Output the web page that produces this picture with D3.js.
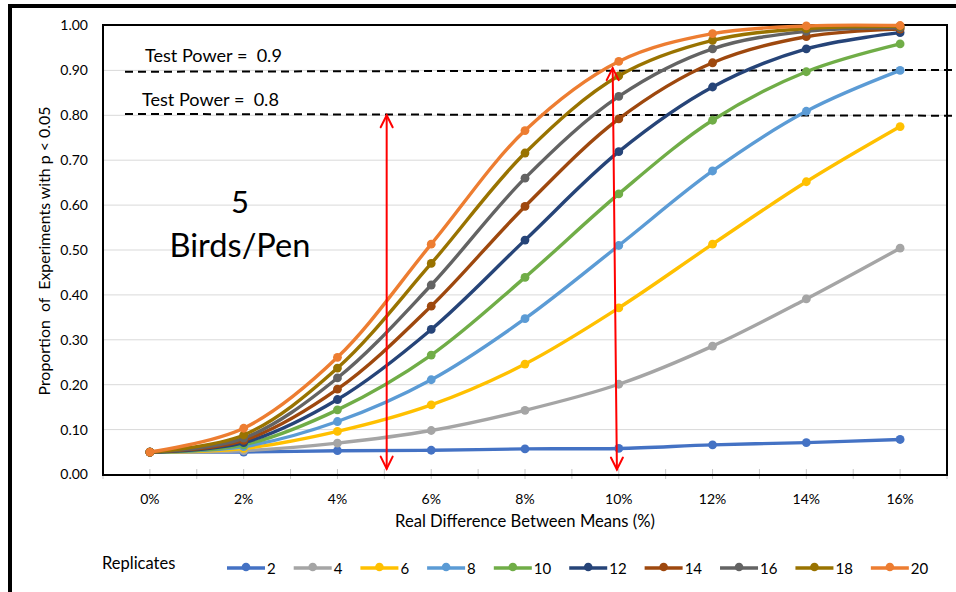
<!DOCTYPE html>
<html>
<head>
<meta charset="utf-8">
<script src="https://cdn.jsdelivr.net/npm/d3@7/dist/d3.min.js"></script>
<style>
  html, body { margin: 0; padding: 0; background: #fff; }
  svg { display: block; font-family: Lato, "Open Sans", sans-serif; }
  text { white-space: pre; }
</style>
</head>
<body>
<svg id="chart" width="956" height="592"></svg>
<script>
// Effect sizes (real difference between means)
const categories = ["0%", "2%", "4%", "6%", "8%", "10%", "12%", "14%", "16%"];

// Proportion of simulated experiments reaching p < 0.05, by number of replicates
const replicates = [2, 4, 6, 8, 10, 12, 14, 16, 18, 20];
const rep2  = [0.050, 0.050, 0.053, 0.054, 0.057, 0.058, 0.066, 0.071, 0.078];
const rep4  = [0.050, 0.053, 0.070, 0.098, 0.143, 0.201, 0.286, 0.391, 0.504];
const rep6  = [0.050, 0.058, 0.096, 0.155, 0.246, 0.371, 0.513, 0.652, 0.775];
const rep8  = [0.050, 0.062, 0.118, 0.211, 0.347, 0.510, 0.676, 0.809, 0.900];
const rep10 = [0.050, 0.066, 0.144, 0.266, 0.439, 0.625, 0.789, 0.897, 0.959];
const rep12 = [0.050, 0.071, 0.167, 0.323, 0.522, 0.719, 0.863, 0.948, 0.984];
const rep14 = [0.050, 0.076, 0.190, 0.375, 0.597, 0.792, 0.917, 0.975, 0.992];
const rep16 = [0.050, 0.081, 0.215, 0.422, 0.660, 0.842, 0.948, 0.987, 0.995];
const rep18 = [0.050, 0.088, 0.237, 0.470, 0.716, 0.888, 0.967, 0.993, 0.998];
const rep20 = [0.050, 0.103, 0.261, 0.513, 0.766, 0.920, 0.982, 0.999, 1.000];
const seriesValues = [rep2, rep4, rep6, rep8, rep10, rep12, rep14, rep16, rep18, rep20];
const seriesColors = ["#4472C4", "#A5A5A5", "#FFC000", "#5B9BD5", "#70AD47",
                      "#264478", "#9E480E", "#636363", "#997300", "#ED7D31"];

// Y-axis ticks
const yTicks = [0, 0.1, 0.2, 0.3, 0.4, 0.5, 0.6, 0.7, 0.8, 0.9, 1.0];

// Target power reference lines
const powerLevels = [0.9, 0.8];
const powerLabels = ["Test Power =  0.9", "Test Power =  0.8"];

// Red arrows: x at bottom / top (%), value at bottom / top
const arrowBottomPct = [5.05, 9.96];
const arrowTopPct = [5.05, 9.87];
const arrowBottomVal = [0.013, 0.011];
const arrowTopVal = [0.80, 0.905];

const svg = d3.select("#chart");
const plot = { left: 103, right: 947, top: 25, bottom: 475 };

const x = d3.scaleBand().domain(categories).range([plot.left, plot.right]).padding(0);
const bw = x.bandwidth();
const cx = c => x(c) + bw / 2;
const xPct = d3.scaleLinear().domain([0, 16]).range([cx("0%"), cx("16%")]);
const y = d3.scaleLinear().domain([0, 1]).range([474.5, 25.5]);

// Outer frame (thick black border at left and top)
svg.append("rect").attr("x", 10).attr("y", 6).attr("width", 1000).attr("height", 700)
  .attr("fill", "none").attr("stroke", "#000").attr("stroke-width", 4);

// Gridlines
svg.append("g").selectAll("line").data(yTicks.slice(1)).join("line")
  .attr("x1", plot.left).attr("x2", plot.right)
  .attr("y1", d => y(d)).attr("y2", d => y(d))
  .attr("stroke", "#d9d9d9").attr("stroke-width", 1);

// Y-axis tick labels
const yAxis = d3.axisLeft(y).tickValues(yTicks).tickFormat(d3.format(".2f")).tickSize(0).tickPadding(15);
const gy = svg.append("g").attr("transform", `translate(${plot.left},0)`).call(yAxis);
gy.select(".domain").remove();
gy.selectAll("text").attr("font-size", 14).attr("fill", "#000").attr("font-family", "Lato");

// X-axis: ticks at band edges and centers, labels below
const tickXs = [];
categories.forEach(c => { tickXs.push(x(c)); tickXs.push(cx(c)); });
tickXs.push(plot.right);
svg.append("g").selectAll("line").data(tickXs).join("line")
  .attr("x1", d => d).attr("x2", d => d).attr("y1", 469).attr("y2", 479)
  .attr("stroke", "#c8c8c8").attr("stroke-width", 1);

const xAxis = d3.axisBottom(x).tickSize(0).tickPadding(19);
const gx = svg.append("g").attr("transform", `translate(0,${plot.bottom})`).call(xAxis);
gx.select(".domain").remove();
gx.selectAll("text").attr("font-size", 14).attr("fill", "#000").attr("font-family", "Lato");

// Plot area border
svg.append("rect").attr("x", plot.left).attr("y", plot.top)
  .attr("width", plot.right - plot.left).attr("height", plot.bottom - plot.top)
  .attr("fill", "none").attr("stroke", "#000").attr("stroke-width", 2);

// Fit a text element to a target width by adjusting its font size
function fit(sel, w) {
  const n = sel.node();
  const fs = parseFloat(sel.attr("font-size"));
  const len = n.getComputedTextLength();
  sel.attr("font-size", (fs * w / len).toFixed(2));
  return sel;
}

// Axis titles
fit(svg.append("text").attr("transform", "translate(50,251) rotate(-90)")
  .attr("text-anchor", "middle").attr("font-size", 14)
  .text("Proportion  of  Experiments with p < 0.05"), 289);
fit(svg.append("text").attr("x", 525).attr("y", 527)
  .attr("text-anchor", "middle").attr("font-size", 14)
  .text("Real Difference Between Means (%)"), 260);

// Power reference lines (dashed)
const powerLeft = [0.897, 0.803];
powerLevels.forEach((p, i) => {
  svg.append("line")
    .attr("x1", 125).attr("x2", 956)
    .attr("y1", y(powerLeft[i])).attr("y2", y(p + (p - powerLeft[i]) * 0.3))
    .attr("stroke", "#000").attr("stroke-width", 2).attr("stroke-dasharray", "8,5");
});
fit(svg.append("text").attr("x", 145).attr("y", 62).attr("font-size", 16).text(powerLabels[0]), 137);
fit(svg.append("text").attr("x", 142).attr("y", 106).attr("font-size", 16).text(powerLabels[1]), 137);

// Annotation
svg.append("text").attr("x", 240).attr("y", 213).attr("text-anchor", "middle")
  .attr("font-size", 31).text("5");
fit(svg.append("text").attr("x", 240).attr("y", 257).attr("text-anchor", "middle")
  .attr("font-size", 30).text("Birds/Pen"), 141);

// Series lines and markers
const line = d3.line()
  .x((d, i) => cx(categories[i]))
  .y(d => y(d))
  .curve(d3.curveCatmullRom.alpha(0.5));

const gs = svg.append("g");
seriesValues.forEach((vals, si) => {
  const g = gs.append("g");
  g.append("path").attr("d", line(vals)).attr("fill", "none")
    .attr("stroke", seriesColors[si]).attr("stroke-width", 3.4)
    .attr("stroke-linejoin", "round").attr("stroke-linecap", "round");
  g.selectAll("circle").data(vals).join("circle")
    .attr("cx", (d, i) => cx(categories[i])).attr("cy", d => y(d))
    .attr("r", 4.4).attr("fill", seriesColors[si]);
});

// Red double-headed arrows
arrowBottomPct.forEach((bp, i) => {
  const x1 = xPct(bp), y1 = y(arrowBottomVal[i]);
  const x2 = xPct(arrowTopPct[i]), y2 = y(arrowTopVal[i]);
  const g = svg.append("g").attr("stroke", "#FF0000").attr("stroke-width", 2)
    .attr("fill", "none").attr("stroke-linecap", "round");
  g.append("line").attr("x1", x1).attr("y1", y1).attr("x2", x2).attr("y2", y2);
  g.append("path").attr("d", `M${x2 - 6},${y2 + 12}L${x2},${y2}L${x2 + 6},${y2 + 12}`);
  g.append("path").attr("d", `M${x1 - 6},${y1 - 12}L${x1},${y1}L${x1 + 6},${y1 - 12}`);
});

// Legend
svg.append("text").attr("x", 102).attr("y", 569).attr("font-size", 16.5).text("Replicates");
let lx = 227;
replicates.forEach((r, i) => {
  const g = svg.append("g");
  g.append("line").attr("x1", lx).attr("x2", lx + 38).attr("y1", 568).attr("y2", 568)
    .attr("stroke", seriesColors[i]).attr("stroke-width", 3.5);
  g.append("circle").attr("cx", lx + 19).attr("cy", 567).attr("r", 4.3).attr("fill", seriesColors[i]);
  const t = g.append("text").attr("x", lx + 40).attr("y", 574).attr("font-size", 15).text(String(r));
  lx += 40 + t.node().getComputedTextLength() + 18;
});
</script>
</body>
</html>
